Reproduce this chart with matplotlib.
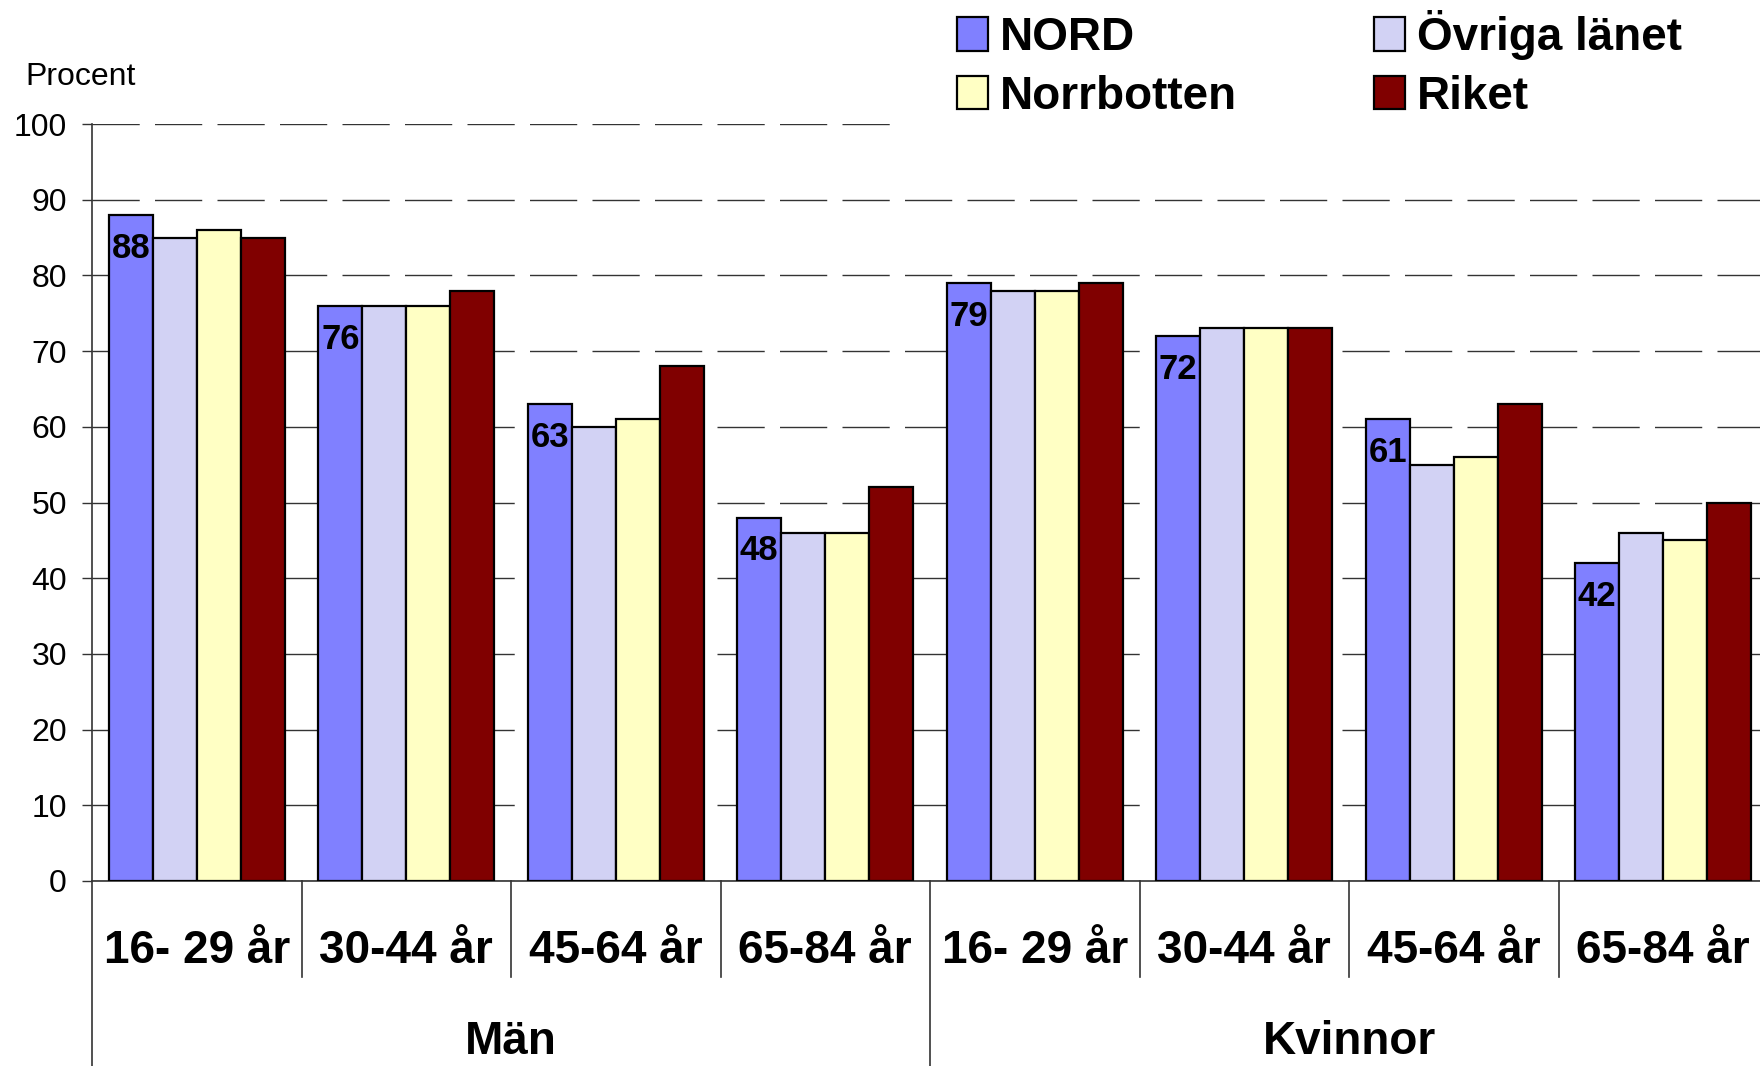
import matplotlib
matplotlib.use("Agg")
import matplotlib.pyplot as plt
from matplotlib.patches import Rectangle
import numpy as np

plt.rcParams['font.family'] = ['Liberation Sans', 'DejaVu Sans']

age_groups = ["16- 29 år", "30-44 år", "45-64 år", "65-84 år"]
sexes = ["Män", "Kvinnor"]
series_names = ["NORD", "Övriga länet", "Norrbotten", "Riket"]
nord = [88, 76, 63, 48, 79, 72, 61, 42]
ovriga = [85, 76, 60, 46, 78, 73, 55, 46]
norrbotten = [86, 76, 61, 46, 78, 73, 56, 45]
riket = [85, 78, 68, 52, 79, 73, 63, 50]
y_ticks = [0, 10, 20, 30, 40, 50, 60, 70, 80, 90, 100]

colors = ["#8080FF", "#D2D2F4", "#FFFFC4", "#800000"]
series = [nord, ovriga, norrbotten, riket]

W, H = 1760, 1066
fig = plt.figure(figsize=(W / 100, H / 100), dpi=100)
ax_left, ax_right = 92, 1768
ax_top, ax_bot = 124, 881
ax = fig.add_axes([ax_left / W, 1 - ax_bot / H, (ax_right - ax_left) / W, (ax_bot - ax_top) / H])

ncat = len(nord)
x = np.arange(ncat)
bw = 0.21
handles = []
for i, (vals, c, name) in enumerate(zip(series, colors, series_names)):
    pos = x - 2 * bw + bw / 2 + i * bw + 0.5
    b = ax.bar(pos, vals, width=bw, color=c, edgecolor="black", linewidth=1.6, zorder=3, label=name)
    handles.append(b)
    if i == 0:
        for px, v in zip(pos, vals):
            ax.annotate(str(v), xy=(px, v), xytext=(0, -24), textcoords="offset points",
                        ha="center", va="center", fontsize=25, fontweight="bold", zorder=4)

ax.set_xlim(0, ncat)
ax.set_ylim(0, 100)
ax.set_yticks(y_ticks)
ax.set_yticklabels([str(t) for t in y_ticks], fontsize=23)
ax.tick_params(axis="y", length=7, width=1, pad=11, color="#333333")
ax.set_xticks([])
ax.yaxis.grid(True, color="#333333", linewidth=1.0, linestyle=(0, (34, 11)), zorder=0)
ax.set_axisbelow(True)
for s in ["top", "right"]:
    ax.spines[s].set_visible(False)
ax.spines["left"].set_color("#333333")
ax.spines["left"].set_linewidth(1.2)
ax.spines["bottom"].set_color("#333333")
ax.spines["bottom"].set_linewidth(1.2)

# multi-level category axis
tr = ax.get_xaxis_transform()
axh = ax_bot - ax_top
y_lab = -(951 - ax_bot) / axh
y_sex = -(1042 - ax_bot) / axh
y_sep = -(977 - ax_bot) / axh
y_end = -(1066 - ax_bot) / axh - 0.01
for k in range(ncat):
    ax.text(k + 0.5, y_lab, age_groups[k % 4], transform=tr, ha="center", va="center",
            fontsize=33, fontweight="bold")
for k in range(0, ncat + 1):
    yb = y_end if k % 4 == 0 else y_sep
    ax.plot([k, k], [0, yb], transform=tr, color="#333333", linewidth=1.2, clip_on=False)
for j, sx in enumerate(sexes):
    ax.text(j * 4 + 2, y_sex, sx, transform=tr, ha="center", va="center",
            fontsize=33, fontweight="bold")

fig.text(25 / W, 1 - 77 / H, "Procent", fontsize=23, ha="left", va="center")

# white background behind legend
fig.patches.append(Rectangle((901 / W, 1 - 130 / H), 1 - 901 / W, 130 / H, transform=fig.transFigure,
                             facecolor="white", edgecolor="none", zorder=1))
order = [0, 2, 1, 3]
leg = fig.legend([handles[i] for i in order], [series_names[i] for i in order],
                 loc="upper left", bbox_to_anchor=(957 / W, 1 - 10 / H), ncol=2, frameon=False,
                 borderpad=0, borderaxespad=0, handlelength=0.67, handleheight=0.74,
                 handletextpad=0.26, columnspacing=3.0, labelspacing=0.32,
                 prop={"size": 33, "weight": "bold"})
leg.set_zorder(5)

fig.savefig("out.png", dpi=100)
